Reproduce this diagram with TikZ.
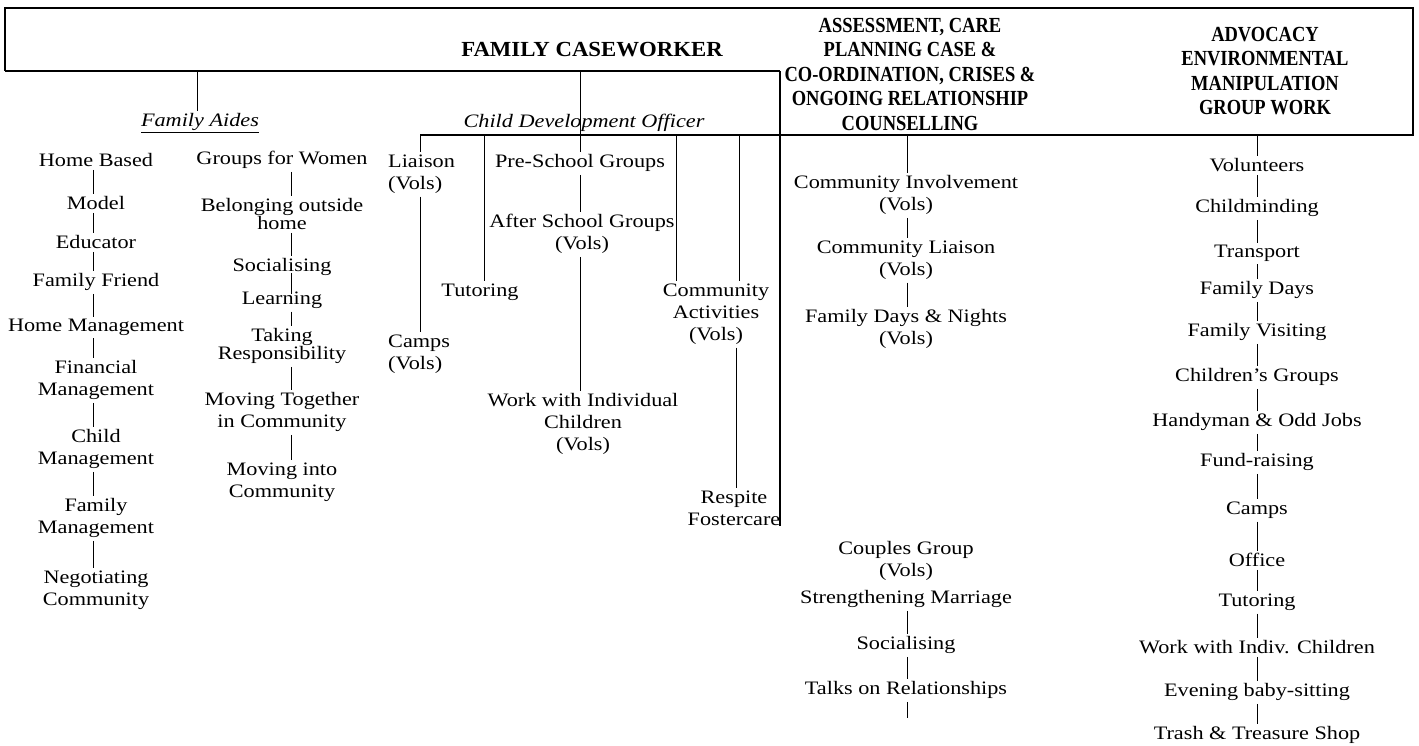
\documentclass[tikz,border=0pt]{standalone}
\usepackage{fontspec}
\setmainfont{Liberation Serif}[FakeStretch=1.17]
\newfontfamily\hdrwide{Liberation Serif}[FakeStretch=1.06]
\newfontfamily\hdrnarrow{Liberation Serif}[FakeStretch=0.86]
\begin{document}
\begin{tikzpicture}[x=1pt,y=-1pt,
  lbl/.style={inner sep=0pt, align=center, font=\fontsize{19}{22}\selectfont},
  lbll/.style={inner sep=0pt, align=left, anchor=west, font=\fontsize{19}{22}\selectfont},
  hdrw/.style={inner sep=0pt, align=center, font=\hdrwide\bfseries\fontsize{21.5}{24.5}\selectfont},
  hdr/.style={inner sep=0pt, align=center, font=\hdrnarrow\bfseries\fontsize{21.5}{24.5}\selectfont},
  itl/.style={inner sep=0pt, align=center, font=\fontsize{19}{22}\selectfont\itshape},
  bar/.style={line width=0.9pt, shorten <=3pt, shorten >=2pt},
  tbar/.style={line width=0.9pt, shorten <=-3pt, shorten >=-3pt},
  drop/.style={line width=0.9pt, shorten >=2pt},
  frame/.style={line width=1.3pt}]
\useasboundingbox (0,0) rectangle (1419,746);
\fill[white] (0,0) rectangle (1419,746);

% header texts
\node[hdrw] (fc) at (592,50) {FAMILY CASEWORKER};
\node[hdr] (asm) at (910,74) {ASSESSMENT, CARE\\PLANNING CASE \&\\CO-ORDINATION, CRISES \&\\ONGOING RELATIONSHIP\\COUNSELLING};
\node[hdr] (adv) at (1265,71) {ADVOCACY\\ENVIRONMENTAL\\MANIPULATION\\GROUP WORK};

% Family Aides branch
\node[itl] (fa) at (200,123) {\underline{Family Aides}};
\node[lbl] (hb) at (96,160) {Home Based};
\node[lbl] (model) at (96,203) {Model};
\node[lbl] (edu) at (96,242) {Educator};
\node[lbl] (ff) at (96,282) {Family Friend};
\node[lbl] (hm) at (96,327) {Home Management};
\node[lbl] (fin) at (96,380) {Financial\\Management};
\node[lbl] (cm) at (96,449) {Child\\Management};
\node[lbl] (fm) at (96,518) {Family\\Management};
\node[lbl] (nc) at (96,590) {Negotiating\\Community};

\node[lbl] (gw) at (282,160) {Groups for Women};
\node[lbl] (bo) at (282,214) {Belonging outside\\[-4pt]home};
\node[lbl] (soc) at (282,267) {Socialising};
\node[lbl] (learn) at (282,300) {Learning};
\node[lbl] (takr) at (282,346) {Taking\\[-4pt]Responsibility};
\node[lbl] (mt) at (282,412) {Moving Together\\in Community};
\node[lbl] (mi) at (282,482) {Moving into\\Community};

% Child Development Officer branch
\node[itl] (cdo) at (584,123) {Child Development Officer};
\node[lbll] (liaison) at (388,174) {Liaison\\(Vols)};
\node[lbll] (camps) at (388,354) {Camps\\(Vols)};
\node[lbl] (tut) at (480,292) {Tutoring};
\node[lbl] (psg) at (580,163) {Pre-School Groups};
\node[lbl] (asg) at (582,234) {After School Groups\\(Vols)};
\node[lbl] (wic) at (583,424) {Work with Individual\\Children\\(Vols)};
\node[lbl] (ca) at (716,314) {Community\\Activities\\(Vols)};
\node[lbl] (rf) at (734,508) {Respite\\Fostercare};

% Assessment branch
\node[lbl] (ci) at (906,195) {Community Involvement\\(Vols)};
\node[lbl] (cl) at (906,260) {Community Liaison\\(Vols)};
\node[lbl] (fdn) at (906,329) {Family Days \& Nights\\(Vols)};
\node[lbl] (cg) at (906,561) {Couples Group\\(Vols)};
\node[lbl] (sm) at (906,599) {Strengthening Marriage};
\node[lbl] (soc2) at (906,645) {Socialising};
\node[lbl] (tor) at (906,690) {Talks on Relationships};

% Advocacy branch
\node[lbl] (vol) at (1257,165) {Volunteers};
\node[lbl] (chm) at (1257,208) {Childminding};
\node[lbl] (trn) at (1257,253) {Transport};
\node[lbl] (fd) at (1257,290) {Family Days};
\node[lbl] (fv) at (1257,332) {Family Visiting};
\node[lbl] (chg) at (1257,377) {Children's Groups};
\node[lbl] (hoj) at (1257,422) {Handyman \& Odd Jobs};
\node[lbl] (fr) at (1257,462) {Fund-raising};
\node[lbl] (cmp) at (1257,510) {Camps};
\node[lbl] (off) at (1257,560) {Office};
\node[lbl] (tut2) at (1257,602) {Tutoring};
\node[lbl] (wi) at (1257,647) {Work with Indiv. Children};
\node[lbl] (ebs) at (1257,692) {Evening baby-sitting};
\node[lbl] (tts) at (1257,735) {Trash \& Treasure Shop};

% frame coordinates
\coordinate (ftl) at (5,8);
\coordinate (ftr) at (1413,8);
\coordinate (fbl) at (5,71);
\coordinate (corner) at (780,71);
\coordinate (fbr) at (1413,135);
\coordinate (cdoL) at (420,135);
\coordinate (fcb1) at (197,71);
\coordinate (fcb2) at (580,71);
\coordinate (d2) at (484,135);
\coordinate (d3) at (580,135);
\coordinate (d4) at (676,135);
\coordinate (d5) at (739,135);
\coordinate (c1) at (93,0);
\coordinate (c2) at (291,0);
\coordinate (c5) at (736,0);
\coordinate (ab) at (907,135);
\coordinate (vb) at (1257,135);
\coordinate (tend) at (907,720);

\draw[frame] (fbl) -- (ftl) -- (ftr) -- (fbr) -- (cdoL);
\draw[frame] (fbl) -- (corner);
\draw[frame] (corner) -- (corner |- rf.south);

% Family Aides connectors
\draw[drop] (fcb1) -- (fcb1 |- fa.north);
\draw[bar] (hb.south -| c1) -- (model.north -| c1);
\draw[bar] (model.south -| c1) -- (edu.north -| c1);
\draw[bar] (edu.south -| c1) -- (ff.north -| c1);
\draw[bar] (ff.south -| c1) -- (hm.north -| c1);
\draw[bar] (hm.south -| c1) -- (fin.north -| c1);
\draw[bar] (fin.south -| c1) -- (cm.north -| c1);
\draw[bar] (cm.south -| c1) -- (fm.north -| c1);
\draw[bar] (fm.south -| c1) -- (nc.north -| c1);
\draw[bar] (gw.south -| c2) -- (bo.north -| c2);
\draw[bar] (bo.south -| c2) -- (soc.north -| c2);
\draw[tbar] (soc.south -| c2) -- (learn.north -| c2);
\draw[bar] (learn.south -| c2) -- (takr.north -| c2);
\draw[bar] (takr.south -| c2) -- (mt.north -| c2);
\draw[bar] (mt.south -| c2) -- (mi.north -| c2);

% CDO connectors
\draw[drop] (fcb2) -- (d3 |- psg.north);
\draw[drop] (cdoL) -- (cdoL |- liaison.north);
\draw[bar] (liaison.south -| cdoL) -- (camps.north -| cdoL);
\draw[drop] (d2) -- (d2 |- tut.north);
\draw[bar] (psg.south -| d3) -- (asg.north -| d3);
\draw[bar] (asg.south -| d3) -- (wic.north -| d3);
\draw[drop] (d4) -- (d4 |- ca.north);
\draw[drop] (d5) -- (d5 |- ca.north);
\draw[bar] (ca.south -| c5) -- (rf.north -| c5);

% Assessment connectors
\draw[drop] (ab) -- (ab |- ci.north);
\draw[bar] (ci.south -| ab) -- (cl.north -| ab);
\draw[bar] (cl.south -| ab) -- (fdn.north -| ab);
\draw[bar] (sm.south -| ab) -- (soc2.north -| ab);
\draw[bar] (soc2.south -| ab) -- (tor.north -| ab);
\draw[bar] (tor.south -| ab) -- (tend);

% Advocacy connectors
\draw[drop] (vb) -- (vb |- vol.north);
\foreach \a/\b in {vol/chm,chm/trn,trn/fd,fd/fv,fv/chg,chg/hoj,hoj/fr,fr/cmp,cmp/off,off/tut2,tut2/wi,wi/ebs,ebs/tts}
  \draw[bar] (\a.south -| vb) -- (\b.north -| vb);
\end{tikzpicture}
\end{document}
